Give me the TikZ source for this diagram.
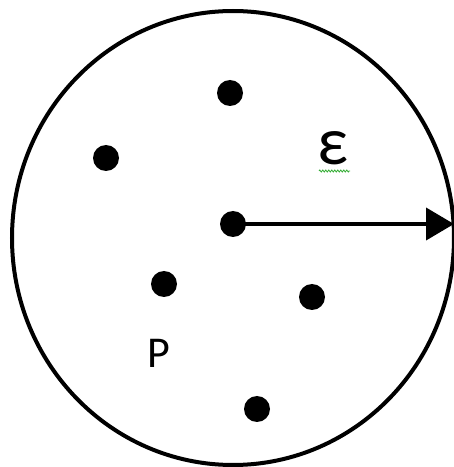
\documentclass[tikz,border=0pt]{standalone}
\usepackage{fontspec}
\setmainfont{Carlito}
\usetikzlibrary{arrows.meta,decorations.pathmorphing}
\begin{document}
\begin{tikzpicture}[x=1pt,y=1pt,
  dot/.style={circle,fill=black,draw=none,minimum size=26pt,inner sep=0pt},
  outline/.style={line width=4pt},
  radiusarrow/.style={line width=4pt,-{Triangle[length=28pt,width=32pt]}},
  lbl/.style={inner sep=0pt}]
\useasboundingbox (0,0) rectangle (454,467);
\draw[outline] (233,229) ellipse [x radius=221, y radius=227];
\node[dot] (c) at (233,243) {};
\node[dot] (d1) at (230,374) {};
\node[dot] (d2) at (106,309) {};
\node[dot] (d3) at (164,183) {};
\node[dot] (d4) at (312,170) {};
\node[dot] (d5) at (257,58) {};
\coordinate (tip) at (454,243);
\draw[radiusarrow] (c.center) -- (tip);
\node[lbl] (P) at (159,114) {\fontsize{44}{52}\selectfont P};
\node[lbl] (eps) at (333,319) {\fontsize{68}{76}\selectfont ε};
\coordinate (sq1) at (319,296);
\coordinate (sq2) at (350,296);
\draw[green!60!black!80, line width=0.8pt, decorate, decoration={zigzag, amplitude=1pt, segment length=3pt}] (sq1) -- (sq2);
\end{tikzpicture}
\end{document}
